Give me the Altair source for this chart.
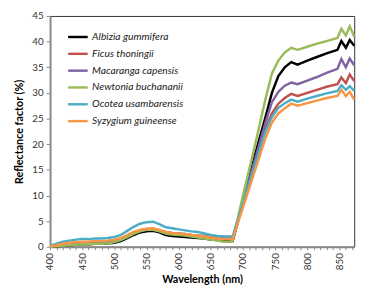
import altair as alt
import pandas as pd

species = ["Albizia gummifera", "Ficus thoningii", "Macaranga capensis",
           "Newtonia buchananii", "Ocotea usambarensis", "Syzygium guineense"]
colors = ["#000000", "#C0504D", "#8064A2", "#9BBB59", "#4BACC6", "#F79646"]

wavelength = [400, 410, 420, 430, 440, 450, 460, 470, 480, 490, 500, 510, 520, 530, 540,
              550, 560, 570, 580, 590, 600, 610, 620, 630, 640, 650, 660, 670, 680,
              684, 700, 720, 735, 745, 755, 765, 775, 785, 800, 815, 830, 847, 853, 860, 866, 873]

albizia = [0.0, 0.1, 0.2, 0.3, 0.4, 0.5, 0.5, 0.6, 0.6, 0.7, 0.8, 1.1, 1.7, 2.3, 2.8,
           3.0, 3.1, 2.8, 2.3, 2.1, 2.0, 1.9, 1.8, 1.7, 1.6, 1.4, 1.3, 1.2, 1.1,
           1.1, 8.6, 18.5, 25.3, 30.0, 33.3, 35.0, 36.0, 35.5, 36.3, 37.0, 37.7, 38.4, 40.1, 38.8, 40.3, 39.2]
ficus = [0.1, 0.3, 0.5, 0.7, 0.8, 0.9, 0.9, 1.0, 1.0, 1.1, 1.3, 1.6, 2.2, 2.8, 3.2,
         3.4, 3.5, 3.2, 2.8, 2.6, 2.5, 2.4, 2.2, 2.1, 1.9, 1.7, 1.6, 1.5, 1.5,
         1.5, 8.3, 16.8, 23.1, 26.0, 27.9, 29.0, 29.8, 29.4, 30.0, 30.6, 31.2, 31.7, 33.0, 31.9, 33.6, 32.3]
macaranga = [0.1, 0.3, 0.5, 0.7, 0.8, 0.9, 0.9, 1.0, 1.0, 1.1, 1.3, 1.6, 2.2, 2.8, 3.2,
             3.4, 3.5, 3.2, 2.9, 2.7, 2.6, 2.5, 2.3, 2.2, 2.1, 1.9, 1.8, 1.7, 1.7,
             1.7, 8.8, 17.6, 24.2, 28.2, 30.2, 31.4, 32.0, 31.7, 32.4, 33.1, 33.9, 34.7, 36.6, 35.0, 36.7, 35.4]
newtonia = [0.0, 0.1, 0.2, 0.3, 0.4, 0.5, 0.5, 0.6, 0.6, 0.7, 0.9, 1.3, 1.9, 2.5, 3.0,
            3.3, 3.3, 3.0, 2.6, 2.4, 2.3, 2.2, 2.0, 1.8, 1.6, 1.4, 1.2, 1.0, 1.0,
            1.2, 10.0, 20.5, 28.8, 33.8, 36.3, 37.9, 38.8, 38.4, 39.0, 39.6, 40.1, 40.7, 42.5, 41.2, 43.0, 41.0]
ocotea = [0.2, 0.6, 1.0, 1.2, 1.4, 1.5, 1.5, 1.6, 1.6, 1.7, 1.9, 2.3, 3.1, 3.9, 4.5,
          4.8, 4.9, 4.4, 3.8, 3.6, 3.4, 3.2, 3.0, 2.9, 2.6, 2.3, 2.1, 2.0, 2.0,
          2.0, 8.4, 16.5, 22.5, 25.3, 27.1, 28.0, 28.7, 28.3, 28.9, 29.4, 29.9, 30.4, 31.5, 30.6, 31.3, 30.4]
syzygium = [0.1, 0.3, 0.6, 0.8, 0.9, 1.0, 1.0, 1.1, 1.1, 1.2, 1.4, 1.7, 2.3, 2.9, 3.3,
            3.5, 3.6, 3.3, 2.9, 2.7, 2.6, 2.5, 2.3, 2.2, 2.0, 1.8, 1.6, 1.5, 1.5,
            1.5, 7.7, 15.4, 21.2, 24.2, 26.0, 27.0, 27.9, 27.5, 28.0, 28.5, 29.0, 29.4, 30.6, 29.4, 30.2, 28.7]

series = [albizia, ficus, macaranga, newtonia, ocotea, syzygium]
rows = []
for i, (name, vals) in enumerate(zip(species, series)):
    for w, v in zip(wavelength, vals):
        rows.append({"Wavelength": w, "Reflectance": v, "Species": name, "order": i})
df = pd.DataFrame(rows)

x_ticks = list(range(400, 871, 10))
y_ticks = list(range(0, 46, 5))

chart = alt.Chart(df).mark_line(strokeWidth=2.5).encode(
    x=alt.X("Wavelength:Q",
            scale=alt.Scale(domain=[400, 873], nice=False, zero=False),
            axis=alt.Axis(values=x_ticks,
                          labelExpr="datum.value % 50 == 0 ? datum.label : ''",
                          labelAngle=270, title="Wavelength (nm)", grid=False,
                          tickSize=3, labelPadding=3, titlePadding=4)),
    y=alt.Y("Reflectance:Q",
            scale=alt.Scale(domain=[0, 45], nice=False),
            axis=alt.Axis(values=y_ticks, title="Reflectance factor (%)", grid=False,
                          tickSize=4, labelPadding=3, titlePadding=8)),
    color=alt.Color("Species:N",
                    scale=alt.Scale(domain=species, range=colors),
                    legend=alt.Legend(title=None, orient="none", legendX=17, legendY=10,
                                      symbolType="stroke", symbolSize=400,
                                      symbolStrokeWidth=2.5, rowPadding=0.2,
                                      labelFontStyle="italic", labelFontSize=10.5,
                                      labelFont="Lato", labelColor="#222",
                                      labelOffset=3, padding=0)),
    detail="Species:N",
    order=alt.Order("order:Q"),
).properties(
    width=311, height=236,
    autosize=alt.AutoSizeParams(type="none"),
    padding={"left": 43, "top": 5, "right": 10, "bottom": 40},
).configure_view(
    stroke="#333333", strokeWidth=1
).configure_axis(
    labelFont="Lato", labelFontSize=10, labelColor="#333333",
    titleFont="Lato", titleFontSize=11, titleFontWeight="bold", titleColor="#000000",
    domainColor="#888888", domainWidth=2, tickColor="#888888", tickWidth=1
)

chart.save("out.html", embed_options={"renderer": "svg", "actions": False})
